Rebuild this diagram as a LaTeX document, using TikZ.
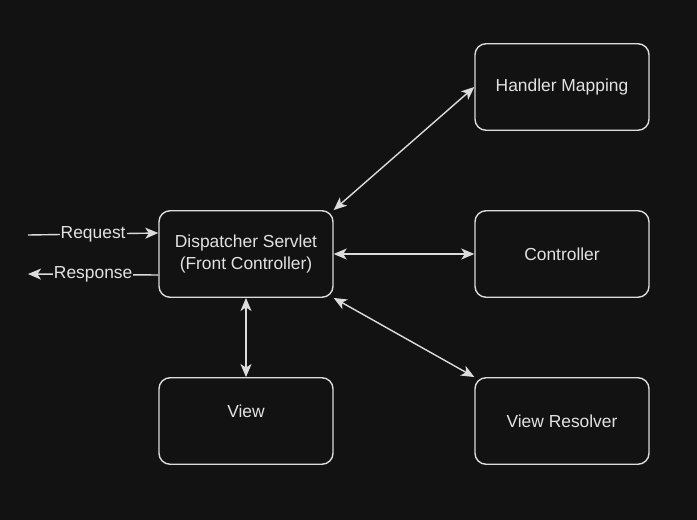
\documentclass[tikz,border=0pt]{standalone}
\usepackage{fontspec}
\setmainfont{Liberation Sans}
\usetikzlibrary{positioning, arrows.meta}
\definecolor{bgdark}{HTML}{121212}
\definecolor{fgline}{HTML}{DCDCDC}
\definecolor{fgtext}{HTML}{E2E2E2}

\begin{document}
\begin{tikzpicture}[x=1pt, y=1pt, node distance=167pt and 316pt, on grid,
    >={Stealth[length=13pt,width=11pt,inset=3.5pt]},
    block/.style={draw=fgline, line width=1.4pt, rounded corners=11pt,
      minimum width=174pt, minimum height=86.5pt, align=center,
      text=fgtext, font=\fontsize{17.4}{22}\selectfont},
    flow/.style={draw=fgline, line width=1.4pt},
    tag/.style={fill=bgdark, text=fgtext, inner sep=1pt,
      font=\fontsize{17.4}{22}\selectfont}]

  \fill[bgdark] (0,0) rectangle (697,-520);
  \useasboundingbox (0,0) rectangle (697,-520);

  \node[block] (ds) at (246,-254) {Dispatcher Servlet\\(Front Controller)};
  \node[block] (hm) [above right=of ds] {Handler Mapping};
  \node[block] (ctl) [right=of ds] {Controller};
  \node[block] (vw) [below=of ds] {\raisebox{10pt}[\height][\depth]{View}};
  \node[block] (vr) [below right=of ds] {View Resolver};

  \coordinate (reqstart) at (28,-235);
  \coordinate (resend) at (28,-274);

  \draw[flow, ->] (reqstart) -- node[tag] {Request} ([yshift=21pt]ds.west);
  \draw[flow, ->] ([yshift=-21pt]ds.west) -- node[tag] {Response} (resend);

  \draw[flow, <->] (ds.north east) -- (hm.west);
  \draw[flow, <->] (ds.east) -- (ctl.west);
  \draw[flow, <->] (ds.south east) -- (vr.north west);
  \draw[flow, <->] (ds.south) -- (vw.north);

\end{tikzpicture}
\end{document}
